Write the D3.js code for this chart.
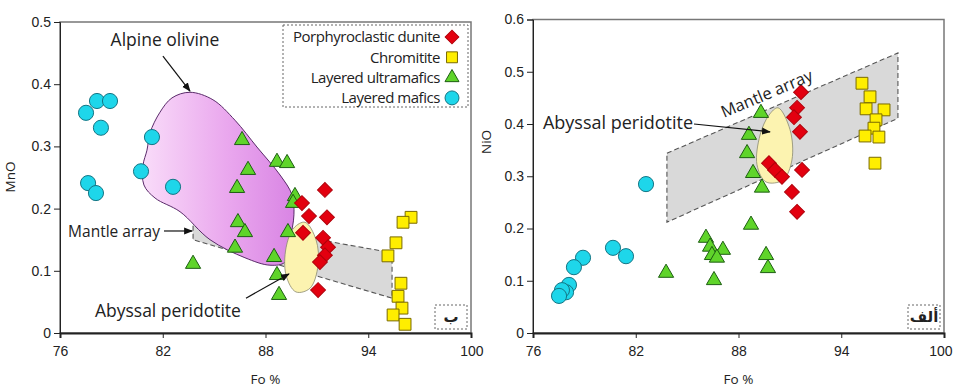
<!DOCTYPE html>
<html>
<head>
<meta charset="utf-8">
<script src="https://cdn.jsdelivr.net/npm/d3@7"></script>
<style>
  html, body { margin: 0; padding: 0; background: #fff; }
  svg { display: block; font-family: 'Open Sans', 'Noto Sans', sans-serif; }
  text { fill: #222; }
</style>
</head>
<body>
<svg id="chart" width="953" height="387"></svg>
<script>
// ---- data ----
const foTicks = [76, 82, 88, 94, 100]
const mnoTicks = [0, 0.1, 0.2, 0.3, 0.4, 0.5]
const nioTicks = [0, 0.1, 0.2, 0.3, 0.4, 0.5, 0.6]

const seriesNames = ['Porphyroclastic dunite', 'Chromitite', 'Layered ultramafics', 'Layered mafics']

// MnO panel  [Fo, MnO]
const mnoDunite = [[91.47,0.230],[90.13,0.209],[90.54,0.188],[91.59,0.186],[90.19,0.161],[91.36,0.153],
  [91.65,0.138],[91.47,0.125],[91.18,0.114],[91.07,0.069]]
const mnoChromitite = [[96.50,0.186],[96.03,0.178],[95.62,0.145],[95.15,0.124],[95.91,0.080],[95.74,0.059],
  [95.97,0.040],[95.45,0.029],[96.15,0.014]]
const mnoUltramafic = [[86.63,0.310],[86.98,0.262],[88.67,0.275],[89.26,0.273],[86.34,0.233],[89.72,0.220],
  [89.61,0.209],[86.39,0.178],[86.80,0.162],[89.31,0.162],[86.22,0.137],[83.77,0.111],[88.50,0.122],
  [88.67,0.093],[88.79,0.061]]
const mnoMafic = [[77.52,0.354],[78.16,0.373],[78.92,0.373],[78.39,0.330],[81.37,0.315],[80.73,0.260],
  [82.60,0.235],[77.64,0.241],[78.10,0.225]]

// NiO panel  [Fo, NiO]
const nioDunite = [[91.65,0.461],[91.42,0.431],[91.24,0.413],[91.59,0.385],[89.78,0.325],[90.13,0.312],
  [90.54,0.299],[91.71,0.312],[91.12,0.270],[91.42,0.232]]
const nioChromitite = [[95.21,0.478],[95.68,0.452],[95.45,0.429],[96.50,0.427],[96.03,0.408],[95.91,0.392],
  [95.39,0.377],[96.20,0.375],[95.97,0.325]]
const nioUltramafic = [[89.31,0.421],[88.61,0.379],[88.50,0.344],[88.85,0.306],[89.37,0.278],[88.73,0.207],
  [86.10,0.182],[86.34,0.165],[87.09,0.159],[86.45,0.149],[86.74,0.144],[89.61,0.149],[89.72,0.124],
  [83.77,0.115],[86.57,0.101]]
const nioMafic = [[82.60,0.285],[80.67,0.163],[81.43,0.147],[78.92,0.144],[78.39,0.126],[78.10,0.092],
  [77.93,0.078],[77.69,0.082],[77.52,0.071]]

// field outlines
const mnoAlpine = [[83.59,0.387],[84.93,0.375],[86.22,0.342],[87.50,0.299],[88.85,0.254],[89.55,0.222],
  [89.66,0.190],[89.43,0.150],[89.14,0.114],[88.26,0.109],[86.80,0.121],[84.76,0.150],[83.01,0.195],
  [81.55,0.217],[80.90,0.238],[80.85,0.270],[81.08,0.294],[81.26,0.322],[81.84,0.355],[82.54,0.378]]
const mnoMantle = [[83.77,0.186],[95.39,0.129],[95.39,0.056],[83.77,0.150]]
const mnoAbyssal = [[90.31,0.178],[90.95,0.150],[91.07,0.109],[90.60,0.072],[89.78,0.066],[89.20,0.093],
  [89.20,0.137],[89.66,0.169]]
const nioMantle = [[83.82,0.344],[97.31,0.536],[97.31,0.411],[83.82,0.212]]
const nioAbyssal = [[90.31,0.431],[91.01,0.389],[91.12,0.331],[90.60,0.293],[89.61,0.289],[89.08,0.322],
  [89.26,0.379],[89.78,0.417]]

// ---- styling ----
const styles = {
  'Porphyroclastic dunite': { type: d3.symbolSquare, size: 110, rotate: 45, fill: '#e3000f', stroke: '#b0000a' },
  'Chromitite': { type: d3.symbolSquare, size: 140, rotate: 0, fill: '#ffee00', stroke: '#7a6a00' },
  'Layered ultramafics': { type: d3.symbolTriangle, size: 100, rotate: 0, fill: '#5fd42a', stroke: '#1d5e12' },
  'Layered mafics': { type: d3.symbolCircle, size: 180, rotate: 0, fill: '#1ed6ea', stroke: '#147584' },
}

const svg = d3.select('#chart')
const defs = svg.append('defs')

const grad = defs.append('linearGradient').attr('id', 'pink').attr('x1', 0).attr('x2', 1).attr('y1', 0).attr('y2', 0)
grad.append('stop').attr('offset', 0).attr('stop-color', '#f9dcf9')
grad.append('stop').attr('offset', 0.55).attr('stop-color', '#eaa8ee')
grad.append('stop').attr('offset', 1).attr('stop-color', '#d985e4')

defs.append('marker').attr('id', 'arrow')
  .attr('viewBox', '0 0 10 10').attr('refX', 9).attr('refY', 5)
  .attr('markerWidth', 9).attr('markerHeight', 9).attr('orient', 'auto-start-reverse')
  .attr('markerUnits', 'userSpaceOnUse')
  .append('path').attr('d', 'M0,1 L10,5 L0,9 Z').attr('fill', '#111')

function makePanel(opt) {
  const x = d3.scaleLinear().domain([76, 100]).range([opt.left, opt.right])
  const y = d3.scaleLinear().domain([0, opt.ymax]).range([opt.bottom, opt.top])
  const g = svg.append('g')

  // frame
  g.append('rect').attr('x', opt.left).attr('y', opt.top)
    .attr('width', opt.right - opt.left).attr('height', opt.bottom - opt.top)
    .attr('fill', 'none').attr('stroke', '#777').attr('stroke-width', 1.5)

  const xAxis = g.append('g').attr('transform', `translate(0,${opt.bottom})`)
    .call(d3.axisBottom(x).tickValues(foTicks).tickSize(5).tickFormat(d3.format('d')))
  xAxis.select('.domain').attr('stroke-width', 2)
  xAxis.selectAll('text').attr('font-size', 14).attr('dy', '1.05em')
  // keep the last label inside the window
  xAxis.selectAll('.tick').filter((d) => d === 100).select('text')
    .attr('text-anchor', 'end').attr('x', opt.lastShift)

  const yAxis = g.append('g').attr('transform', `translate(${opt.left},0)`)
    .call(d3.axisLeft(y).tickValues(opt.yTicks).tickSize(6).tickFormat(d3.format('~g')))
  yAxis.selectAll('text').attr('font-size', 14).attr('x', -9)

  g.selectAll('.domain, .tick line').attr('stroke', '#222')
  g.selectAll('.tick text').attr('fill', '#2a2a2a')

  g.append('text').attr('x', (opt.left + opt.right) / 2).attr('y', 384)
    .attr('text-anchor', 'middle').attr('font-size', 13.5).text('Fo %')
  g.append('text')
    .attr('transform', `translate(${opt.titleX},${opt.titleY}) rotate(-90)`)
    .attr('text-anchor', 'middle').attr('font-size', 13.5).text(opt.yTitle)

  return { g, x, y }
}

const line = (x, y) => d3.line().x((d) => x(d[0])).y((d) => y(d[1]))

function drawMarks(p, sets) {
  sets.forEach(([name, pts]) => {
    const st = styles[name]
    p.g.append('g').selectAll('path').data(pts).enter().append('path')
      .attr('d', d3.symbol().type(st.type).size(st.size))
      .attr('transform', (d) => `translate(${p.x(d[0])},${p.y(d[1])}) rotate(${st.rotate})`)
      .attr('fill', st.fill).attr('stroke', st.stroke).attr('stroke-width', 1)
  })
}

function arrow(p, from, to) {
  p.g.append('line')
    .attr('x1', p.x(from[0])).attr('y1', p.y(from[1]))
    .attr('x2', p.x(to[0])).attr('y2', p.y(to[1]))
    .attr('stroke', '#111').attr('stroke-width', 1.2).attr('marker-end', 'url(#arrow)')
}

function cornerBox(p, label) {
  const r = p.x.range()[1], b = p.y.range()[0]
  p.g.append('rect').attr('x', r - 36).attr('y', b - 28).attr('width', 32).attr('height', 24)
    .attr('fill', '#fff').attr('stroke', '#666').attr('stroke-dasharray', '2,2')
  p.g.append('text').attr('x', r - 20).attr('y', b - 11).attr('text-anchor', 'middle')
    .attr('font-family', 'DejaVu Sans, Noto Sans, sans-serif').attr('font-size', 15).attr('font-weight', 'bold')
    .text(label)
}

// ---- left: MnO ----
const L = makePanel({ left: 60, right: 471, top: 22, bottom: 333, ymax: 0.5, yTicks: mnoTicks,
  yTitle: 'MnO', titleX: 15, titleY: 177, lastShift: 12 })

L.g.append('path').datum(mnoMantle)
  .attr('d', line(L.x, L.y).curve(d3.curveLinearClosed))
  .attr('fill', '#d9d9d9').attr('stroke', '#555').attr('stroke-width', 1.1).attr('stroke-dasharray', '5,3')
L.g.append('path').datum(mnoAlpine)
  .attr('d', line(L.x, L.y).curve(d3.curveCatmullRomClosed.alpha(0.5)))
  .attr('fill', 'url(#pink)').attr('stroke', '#5a2a6a').attr('stroke-width', 1)
L.g.append('path').datum(mnoAbyssal)
  .attr('d', line(L.x, L.y).curve(d3.curveCatmullRomClosed.alpha(0.5)))
  .attr('fill', '#fcf3b0').attr('stroke', '#8a8a70').attr('stroke-width', 0.8)

drawMarks(L, [['Layered mafics', mnoMafic], ['Layered ultramafics', mnoUltramafic],
  ['Porphyroclastic dunite', mnoDunite], ['Chromitite', mnoChromitite]])

L.g.append('text').attr('x', L.x(82.13)).attr('y', L.y(0.461)).attr('text-anchor', 'middle')
  .attr('font-size', 17.5).text('Alpine olivine')
arrow(L, [82.01, 0.445], [83.59, 0.389])
L.g.append('text').attr('x', L.x(81.84)).attr('y', L.y(0.155)).attr('text-anchor', 'end')
  .attr('font-size', 15.5).text('Mantle array')
arrow(L, [82.07, 0.164], [83.72, 0.164])
L.g.append('text').attr('x', L.x(78.04)).attr('y', L.y(0.026)).attr('font-size', 17.5).text('Abyssal peridotite')
arrow(L, [86.86, 0.056], [89.37, 0.095])

// legend
const lg = L.g.append('g')
lg.append('rect').attr('x', 283).attr('y', 25).attr('width', 185).attr('height', 82)
  .attr('fill', '#fff').attr('stroke', '#666').attr('stroke-dasharray', '2,2')
seriesNames.forEach((name, i) => {
  const st = styles[name]
  const yy = 37 + i * 20.3
  lg.append('text').attr('x', 440).attr('y', yy).attr('dy', '0.35em').attr('text-anchor', 'end')
    .attr('font-size', 15).attr('letter-spacing', -0.45).text(name)
  lg.append('path').attr('d', d3.symbol().type(st.type).size(st.size * 0.85))
    .attr('transform', `translate(452,${yy}) rotate(${st.rotate})`)
    .attr('fill', st.fill).attr('stroke', st.stroke)
})
cornerBox(L, 'ب')

// ---- right: NiO ----
const R = makePanel({ left: 533, right: 944, top: 19.5, bottom: 333, ymax: 0.6, yTicks: nioTicks,
  yTitle: 'NiO', titleX: 491, titleY: 142, lastShift: 8 })

R.g.append('path').datum(nioMantle)
  .attr('d', line(R.x, R.y).curve(d3.curveLinearClosed))
  .attr('fill', '#d9d9d9').attr('stroke', '#555').attr('stroke-width', 1.1).attr('stroke-dasharray', '5,3')
R.g.append('path').datum(nioAbyssal)
  .attr('d', line(R.x, R.y).curve(d3.curveCatmullRomClosed.alpha(0.5)))
  .attr('fill', '#fcf3b0').attr('stroke', '#8a8a70').attr('stroke-width', 0.8)

drawMarks(R, [['Layered mafics', nioMafic], ['Layered ultramafics', nioUltramafic],
  ['Porphyroclastic dunite', nioDunite], ['Chromitite', nioChromitite]])

R.g.append('text').attr('x', R.x(76.58)).attr('y', R.y(0.402)).attr('dy', '0.35em')
  .attr('font-size', 18).text('Abyssal peridotite')
arrow(R, [85.40, 0.400], [89.84, 0.385])
R.g.append('text')
  .attr('transform', `translate(${R.x(89.78)},${R.y(0.448)}) rotate(-23)`)
  .attr('text-anchor', 'middle').attr('font-size', 16.5).text('Mantle array')
cornerBox(R, 'ألف')
</script>
</body>
</html>
